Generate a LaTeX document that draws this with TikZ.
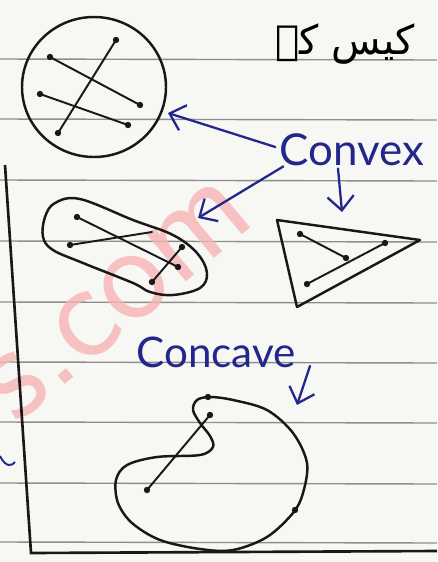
\documentclass[tikz,border=0pt]{standalone}
\usepackage{fontspec}
\newfontfamily\handfont{Lato}
\newfontfamily\urdufont[Script=Arabic]{DejaVu Sans}
\TeXXeTstate=1
\usetikzlibrary{arrows.meta}
\definecolor{paper}{HTML}{F7F7F4}
\definecolor{rule}{HTML}{8E8E8E}
\definecolor{pencil}{HTML}{181818}
\definecolor{blueink}{HTML}{23278C}
\definecolor{stamp}{HTML}{F6B4B4}

\begin{document}
\begin{tikzpicture}[x=0.02cm,y=-0.02cm,>={Straight Barb[length=8pt,width=15pt]},
    ink/.style={draw=pencil,line width=1.4pt,line cap=round,line join=round},
    seg/.style={draw=pencil,line width=1.1pt,line cap=round},
    dot/.style={fill=pencil,radius=3.2},
    pen/.style={draw=blueink,line width=1.3pt,line cap=round,->},
    word/.style={text=blueink,inner sep=0pt,font=\handfont\fontsize{25}{25}\selectfont}]
  \fill[paper] (0,0) rectangle (437,562);
  \clip (0,0) rectangle (437,562);
  \foreach \y in {59,119,180,241,302,362,422,483,542}
    \draw[rule,line width=0.8pt] (0,\y) -- (437,\y+1);
  \node[rotate=40,text=stamp,opacity=0.8,font=\sffamily\fontsize{80}{80}\selectfont] (mark) at (118,300) {s.com};

  \draw[pencil,line width=1.5pt] (5,165) -- (31,553) -- (437,551);
  \draw[blueink,line width=1.1pt] (0,456) .. controls (6,468) and (12,466) .. (15,462);

  \node (kaise) at (345,44) {\urdufont\fontsize{23}{23}\selectfont\beginR کیس کے\endR};

  \draw[ink] (94,87) ellipse [x radius=72,y radius=70];
  \draw[seg] (50,57) -- (140,105);
  \draw[seg] (116,40) -- (58,133);
  \draw[seg] (40,94) -- (128,125);
  \foreach \p in {(50,57),(140,105),(116,40),(58,133),(40,94),(128,125)}
    \fill[dot] \p circle;
  \coordinate (circ-hit) at (168,113);

  \draw[ink] plot[smooth cycle,tension=0.6] coordinates {(55,203) (80,199) (133,220) (173,235) (197,253) (207,273) (200,288) (173,295) (150,292) (133,283) (83,263) (53,250) (43,237) (45,217)};
  \draw[seg] (77,217) -- (178,267);
  \draw[seg] (70,245) -- (152,232);
  \draw[seg] (152,282) -- (182,247);
  \foreach \p in {(77,217),(178,267),(70,245),(152,282),(182,247)}
    \fill[dot] \p circle;
  \coordinate (oval-hit) at (198,218);

  \draw[ink] (277,220) -- (420,240) -- (297,307) -- cycle;
  \draw[seg] (300,234) -- (346,258);
  \draw[seg] (307,284) -- (385,243);
  \foreach \p in {(300,234),(346,258),(307,284),(385,243)}
    \fill[dot] \p circle;
  \coordinate (tri-hit) at (342,212);

  \node[word] (convex) at (352,150) {Convex};
  \draw[pen] (convex.west) ++(-4,-3) -- (circ-hit);
  \draw[pen] (convex.south west) ++(4,0) -- (oval-hit);
  \draw[pen] (convex.south) ++(-14,2) -- (tri-hit);

  \draw[ink] plot[smooth cycle,tension=0.55] coordinates {(210,397) (233,400) (267,410) (293,433) (307,463) (303,493) (293,513) (267,537) (233,550) (200,549) (160,540) (132,523) (118,503) (116,480) (127,465) (157,457) (200,455) (213,447) (210,436) (200,423) (193,410) (197,400)};
  \draw[seg] (147,490) -- (210,415);
  \foreach \p in {(147,490),(210,415),(208,397),(295,510)}
    \fill[dot] \p circle;
  \coordinate (blob-hit) at (297,405);

  \node[word,font=\handfont\fontsize{24}{24}\selectfont] (concave) at (216,352) {Concave};
  \draw[pen] (concave.east) ++(14,14) -- (blob-hit);
\end{tikzpicture}
\end{document}
